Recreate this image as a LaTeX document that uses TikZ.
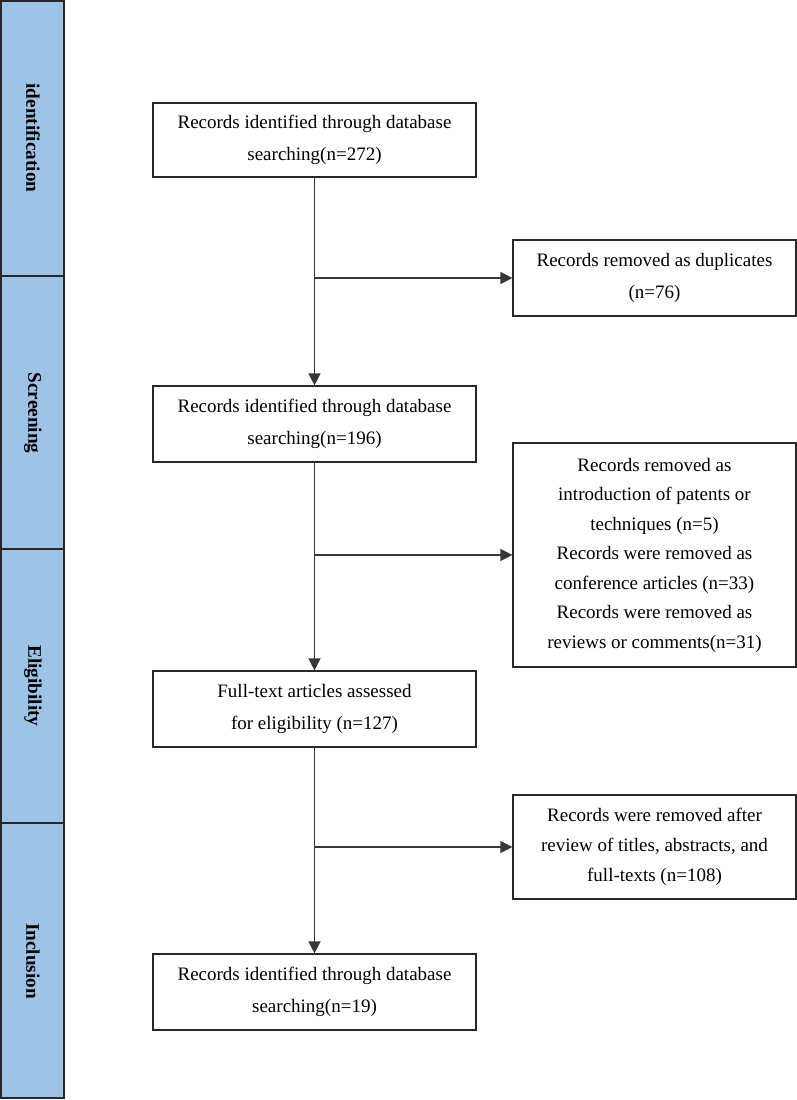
\documentclass[tikz,border=0pt]{standalone}
\usepackage{fontspec}
\setmainfont{Liberation Serif}
\usetikzlibrary{arrows.meta}
\definecolor{stagefill}{RGB}{157,195,230}
\definecolor{edge}{RGB}{40,40,40}
\definecolor{conn}{RGB}{55,55,55}
\begin{document}
\begin{tikzpicture}[x=1pt,y=-1pt,
  stagebox/.style={draw=edge,line width=1.4pt,fill=stagefill},
  stagelabel/.style={rotate=-90,font=\fontsize{19.2}{22}\selectfont\bfseries},
  flowbox/.style={draw=edge,line width=1.2pt,fill=white,align=center,
    font=\fontsize{19}{32}\selectfont,inner sep=0pt},
  conline/.style={draw=conn,line width=1.3pt},
  conarrow/.style={conline,-{Triangle[length=12pt,width=12pt]}}]
\useasboundingbox (0,0) rectangle (797,1100);
% stages
\draw[stagebox] (1,1) rectangle (64,276);
\draw[stagebox] (1,276) rectangle (64,549);
\draw[stagebox] (1,549) rectangle (64,823);
\draw[stagebox] (1,823) rectangle (64,1098);
\node[stagelabel] (l1) at (33,138) {identification};
\node[stagelabel] (l2) at (33,413) {Screening};
\node[stagelabel] (l3) at (33,686) {Eligibility};
\node[stagelabel] (l4) at (33,961) {Inclusion};
% main boxes
\node[flowbox,minimum width=323pt,minimum height=74pt] (b1) at (314.5,140)
  {Records identified through database\\searching(n=272)};
\node[flowbox,minimum width=323pt,minimum height=76pt] (b2) at (314.5,424)
  {Records identified through database\\searching(n=196)};
\node[flowbox,minimum width=323pt,minimum height=76pt] (b3) at (314.5,709)
  {Full-text articles assessed\\for eligibility (n=127)};
\node[flowbox,minimum width=323pt,minimum height=76pt] (b4) at (314.5,992)
  {Records identified through database\\searching(n=19)};
% side boxes
\node[flowbox,minimum width=283pt,minimum height=76pt] (r1) at (654.5,278)
  {Records removed as duplicates\\(n=76)};
\node[flowbox,minimum width=283pt,minimum height=224pt,
  font=\fontsize{19}{29.5}\selectfont] (r2) at (654.5,555)
  {Records removed as\\introduction of patents or\\techniques (n=5)\\Records were removed as\\conference articles (n=33)\\ Records were removed as\\reviews or comments(n=31)};
\node[flowbox,minimum width=283pt,minimum height=104pt,
  font=\fontsize{19}{30}\selectfont] (r3) at (654.5,847)
  {Records were removed after\\review of titles, abstracts, and\\full-texts (n=108)};
% connectors
\draw[conarrow] (b1.south) -- (b2.north);
\draw[conarrow] (b2.south) -- (b3.north);
\draw[conarrow] (b3.south) -- (b4.north);
\coordinate (j1) at (b1.south |- r1.west);
\coordinate (j2) at (b2.south |- r2.west);
\coordinate (j3) at (b3.south |- r3.west);
\draw[conarrow] (j1) -- (r1.west);
\draw[conarrow] (j2) -- (r2.west);
\draw[conarrow] (j3) -- (r3.west);
\end{tikzpicture}
\end{document}
